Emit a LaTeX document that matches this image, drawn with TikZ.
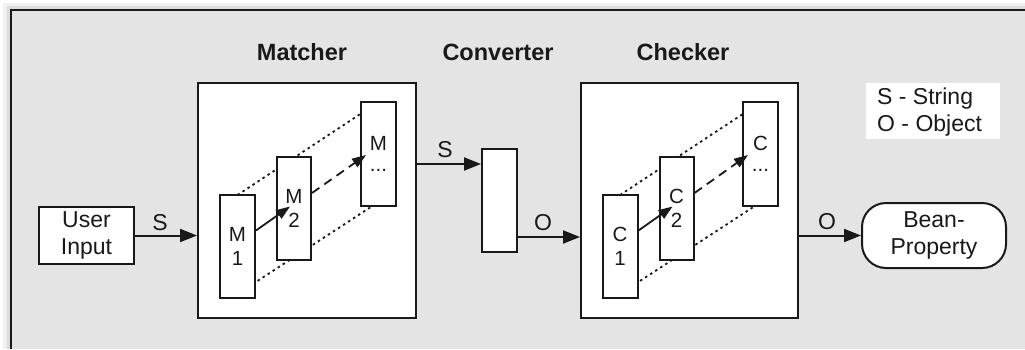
\documentclass[tikz,border=0pt]{standalone}
\usepackage{fontspec}
\setmainfont{Liberation Sans}
\usetikzlibrary{arrows.meta,calc}
\definecolor{bg}{RGB}{228,228,228}
\definecolor{ink}{RGB}{25,25,25}
\begin{document}
\begin{tikzpicture}[x=1pt,y=-1pt,
  box/.style={draw=ink,fill=white,line width=2pt,inner sep=0pt,rectangle},
  lbl/.style={font=\fontsize{23}{27}\selectfont,align=center,inner sep=0pt,text=ink},
  small/.style={font=\fontsize{20.5}{24}\selectfont,align=center,text=ink},
  ttl/.style={font=\fontsize{23.5}{27}\selectfont\bfseries,inner sep=0pt,text=ink},
  flow/.style={draw=ink,line width=2pt,-{Triangle[length=17pt,width=13pt]}},
  inner/.style={draw=ink,line width=1.8pt,-{Triangle[length=14pt,width=10pt]}},
  dashl/.style={draw=ink,line width=1.8pt,dash pattern=on 9pt off 6pt,-{Triangle[length=14pt,width=10pt]}},
  dotl/.style={draw=ink,line width=1.8pt,dash pattern=on 2.5pt off 3.5pt}
]
\useasboundingbox (0,0) rectangle (1025,349);
% frame with soft shadow
\fill[white] (0,0) rectangle (1025,349);
\fill[black!6] (3,3) rectangle (1025,349);
\fill[black!14] (7,6) rectangle (1025,349);
\fill[bg] (11,10) rectangle (1025,349);
\draw[line width=2.5pt,ink] (11,349) -- (11,10) -- (1025,10);

% titles
\node[ttl] (tmatch) at (302,52) {Matcher};
\node[ttl] (tconv) at (498,52) {Converter};
\node[ttl] (tcheck) at (683,52) {Checker};

% legend
\fill[white] (866,83) rectangle (1000,139);
\node[lbl,align=left,anchor=west] (legend) at (877,112) {S - String\\O - Object};

% user input
\node[box,minimum width=95pt,minimum height=57pt,lbl,inner sep=0pt] (user) at (86.5,235.5) {User\\Input};

% matcher
\node[box,minimum width=218pt,minimum height=235pt] (matcher) at (307,200.5) {};
\coordinate (m1t) at (237.5,195);
\coordinate (m3t) at (378.5,102);
\coordinate (m1b) at (237.5,294);
\coordinate (m3b) at (378.5,202);
\draw[dotl] (m1t) -- (m3t);
\draw[dotl] (m1b) -- (m3b);
\node[box,minimum width=35pt,minimum height=104pt,small] (m3) at (378.5,154) {M\\[-3pt]...};
\node[box,minimum width=35pt,minimum height=103pt,small] (m1) at (237.5,246.5) {M\\1};
\node[box,minimum width=34pt,minimum height=103pt,small] (m2) at (294,208.5) {M\\2};
\draw[inner] ($(m1.east)+(0,-16)$) -- ($(m2.center)+(-4,-2)$);
\draw[dashl] ($(m2.east)+(0,-15.5)$) -- ($(m3.west)+(6,1)$);

% converter
\node[box,minimum width=35pt,minimum height=103pt] (conv) at (499.5,200.5) {};
\coordinate (s2) at ($(matcher.east)+(0,-36.5)$);
\draw[flow] (s2) -- (s2 -| conv.west);
\node[lbl] (ls2) at (445,150) {S};

% checker
\node[box,minimum width=217pt,minimum height=235pt] (checker) at (689.5,200.5) {};
\coordinate (c1t) at (620,195);
\coordinate (c3t) at (761,102);
\coordinate (c1b) at (620,294);
\coordinate (c3b) at (761,202);
\draw[dotl] (c1t) -- (c3t);
\draw[dotl] (c1b) -- (c3b);
\node[box,minimum width=35pt,minimum height=104pt,small] (c3) at (760.5,154) {C\\[-3pt]...};
\node[box,minimum width=35pt,minimum height=103pt,small] (c1) at (620,246.5) {C\\1};
\node[box,minimum width=34pt,minimum height=103pt,small] (c2) at (676.5,208.5) {C\\2};
\draw[inner] ($(c1.east)+(0,-16)$) -- ($(c2.center)+(-4,-2)$);
\draw[dashl] ($(c2.east)+(0,-15.5)$) -- ($(c3.west)+(6,1)$);

\coordinate (o1) at ($(conv.east)+(0,36.5)$);
\draw[flow] (o1) -- (o1 -| checker.west);
\node[lbl] (lo1) at (543,223) {O};

% user -> matcher
\draw[flow] (user.east) -- (user.east -| matcher.west);
\node[lbl] (ls1) at (160,223) {S};

% bean property
\node[draw=ink,fill=white,line width=2pt,rectangle,rounded corners=24pt,
  minimum width=144pt,minimum height=65pt,lbl,inner sep=0pt] (bean) at (934,235.5) {Bean-\\Property};
\draw[flow] (bean.west -| checker.east) -- (bean.west);
\node[lbl] (lo2) at (827,222) {O};
\end{tikzpicture}
\end{document}
